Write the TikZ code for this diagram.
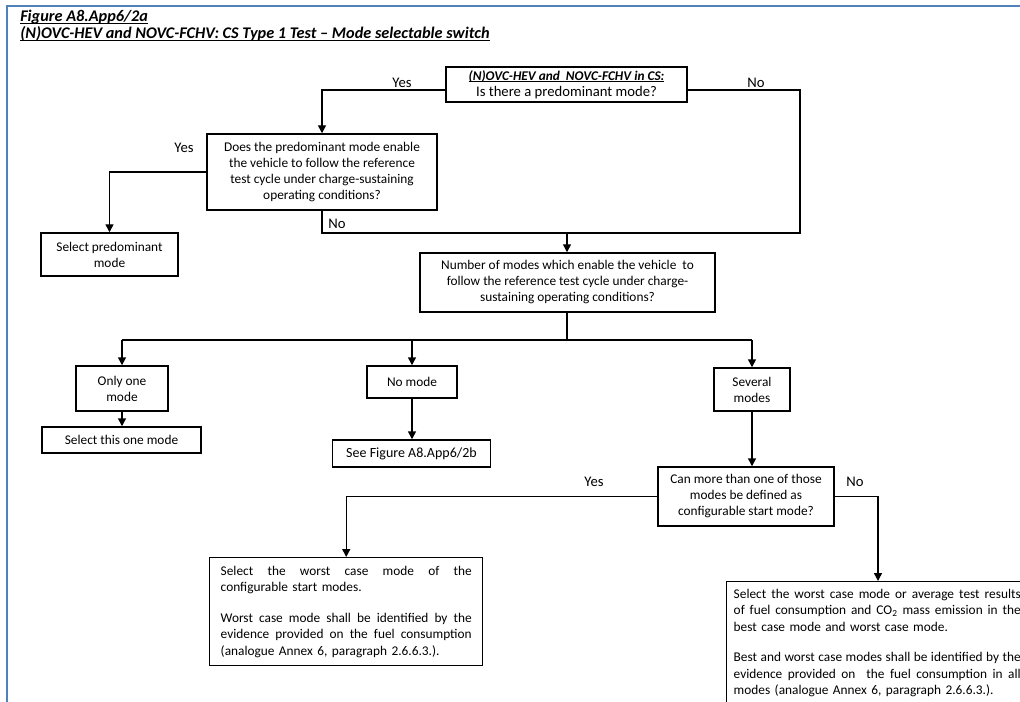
\documentclass[tikz,border=0pt]{standalone}
\usepackage{fontspec}
\setmainfont{Carlito}
\usetikzlibrary{arrows.meta}
\definecolor{frameblue}{RGB}{79,129,189}
\newcommand{\myul}[1]{\leavevmode\setbox0\hbox{#1}\rlap{\rule[-1.6pt]{\wd0}{0.7pt}}\box0}
\newcommand{\jA}[1]{\leavevmode\hbox to 188.25pt{\spaceskip=0.226em plus 1fil minus 0.06em\xspaceskip=\spaceskip #1}}
\newcommand{\jB}[1]{\leavevmode\hbox to 215.25pt{\spaceskip=0.226em plus 1fil minus 0.06em\xspaceskip=\spaceskip #1}}
\tikzset{
  txt/.style={font=\fontsize{10pt}{12pt}\selectfont},
  box/.style={txt, draw, line width=1.1pt, inner sep=0pt, align=center},
  conn/.style={line width=1.1pt},
  arr/.style={conn, -{Triangle[length=6pt,width=6pt]}},
  lbl/.style={font=\fontsize{11pt}{12pt}\selectfont, inner sep=0pt},
  frameline/.style={draw=frameblue, line width=1.7pt},
  ttl/.style={font=\fontsize{12.2pt}{13pt}\selectfont\bfseries\itshape, inner sep=0pt, anchor=base west},
}
\begin{document}
\begin{tikzpicture}[x=0.75pt, y=-0.75pt]
\useasboundingbox (0,0) rectangle (1020,702);
\clip (0,0) rectangle (1020,702);
\fill[white] (0,0) rectangle (1020,702);
% frame
\draw[frameline] (7,710) -- (7,6) -- (1030,6);
% title
\node[ttl] (t1) at (20,22) {\myul{Figure A8.App6/2a}};
\node[ttl] (t2) at (20,39) {\myul{(N)OVC-HEV and NOVC-FCHV: CS Type 1 Test -- Mode selectable switch}};
% boxes
\node[box, minimum width=180.75pt, minimum height=26.25pt] (q1) at (566.5,84.5)
  {\myul{\textbf{\textit{(N)OVC-HEV and\ \ NOVC-FCHV in CS:}}}\\{\fontsize{11pt}{12pt}\selectfont Is there a predominant mode?}};
\node[box, minimum width=172.5pt, minimum height=57pt] (q2) at (322,172)
  {Does the predominant mode enable\\the vehicle to follow the reference\\test cycle under charge-sustaining\\operating conditions?};
\node[box, minimum width=102.75pt, minimum height=32.25pt] (b3) at (109.5,254.5)
  {Select predominant\\mode};
\node[box, minimum width=221.25pt, minimum height=44.25pt] (q4) at (567.5,282.5)
  {Number of modes which enable the vehicle\ \ to\\follow the reference test cycle under charge-\\sustaining operating conditions?};
\node[box, minimum width=69pt, minimum height=33.75pt] (b5) at (122,388.5) {Only one\\mode};
\node[box, minimum width=119.25pt, minimum height=19.5pt] (b6) at (121.5,440) {Select this one mode};
\node[box, minimum width=67.5pt, minimum height=24pt] (b7) at (412,382) {No mode};
\node[box, font=\fontsize{10.5pt}{12pt}\selectfont, minimum width=118.5pt, minimum height=20.25pt] (b8) at (411.5,453.5) {See Figure A8.App6/2b};
\node[box, minimum width=57pt, minimum height=32.25pt] (b9) at (752,389.5) {Several\\modes};
\node[box, minimum width=132pt, minimum height=44.25pt] (q10) at (746,496.5)
  {Can more than one of those\\modes be defined as\\configurable start mode?};
\node[box, anchor=north west, align=left, text width=188.25pt, inner xsep=8.25pt, inner ysep=0pt, minimum height=81pt, font=\fontsize{10pt}{12.4pt}\selectfont] (b11) at (209,557)
  {\jA{Select the worst case mode of the}\\configurable start modes.\\[10.5pt]%
   \jA{Worst case mode shall be identified by the}\\\jA{evidence provided on the fuel consumption}\\(analogue Annex 6, paragraph 2.6.6.3.).};
\node[box, anchor=north west, align=left, text width=215.25pt, inner xsep=5.25pt, inner ysep=5.5pt, font=\fontsize{10pt}{12.4pt}\selectfont] (b12) at (726,581)
  {\jB{Select the worst case mode or average test results}\\\jB{of fuel consumption and CO\textsubscript{2} mass emission in the}\\best case mode and worst case mode.\\[10.5pt]%
   \jB{Best and worst case modes shall be identified by the}\\\jB{evidence provided on\ \ the fuel consumption in all}\\modes (analogue Annex 6, paragraph 2.6.6.3.).\\[20pt]\mbox{}};
% helper coordinates
\coordinate (yA) at (0,90);
\coordinate (nR) at (800,233);
\coordinate (nL) at (322,233);
\coordinate (j1) at (567,233);
\coordinate (bus) at (567,340);
\coordinate (busL) at (122,340);
\coordinate (busR) at (752,340);
\coordinate (c878) at (878,0);
% connectors
\draw[arr] (q1.west |- yA) -| (q2.north);
\draw[conn] (q2.south) -- (nL) -- (nR) |- (q1.east |- yA);
\draw[arr] (j1) -- (j1 |- q4.north);
\draw[arr] (q2.west) -| (b3.north);
\draw[conn] (j1 |- q4.south) -- (bus);
\draw[conn] (busL) -- (busR);
\draw[arr] (busL) -- (busL |- b5.north);
\draw[arr] (b7.north |- busL) -- (b7.north);
\draw[arr] (busR) -- (busR |- b9.north);
\draw[arr] (b5.south) -- (b5.south |- b6.north);
\draw[arr] (b7.south) -- (b7.south |- b8.north);
\draw[arr] (b9.south) -- (b9.south |- q10.north);
\draw[arr] (q10.west) -| (b11.north);
\draw[arr] (q10.east) -| (c878 |- b12.north);
% labels
\node[lbl] (l1) at (402,83) {Yes};
\node[lbl] (l2) at (756,83) {No};
\node[lbl] (l3) at (184,148) {Yes};
\node[lbl] (l4) at (337,224) {No};
\node[lbl] (l5) at (594,482) {Yes};
\node[lbl] (l6) at (855,482) {No};
\end{tikzpicture}
\end{document}
